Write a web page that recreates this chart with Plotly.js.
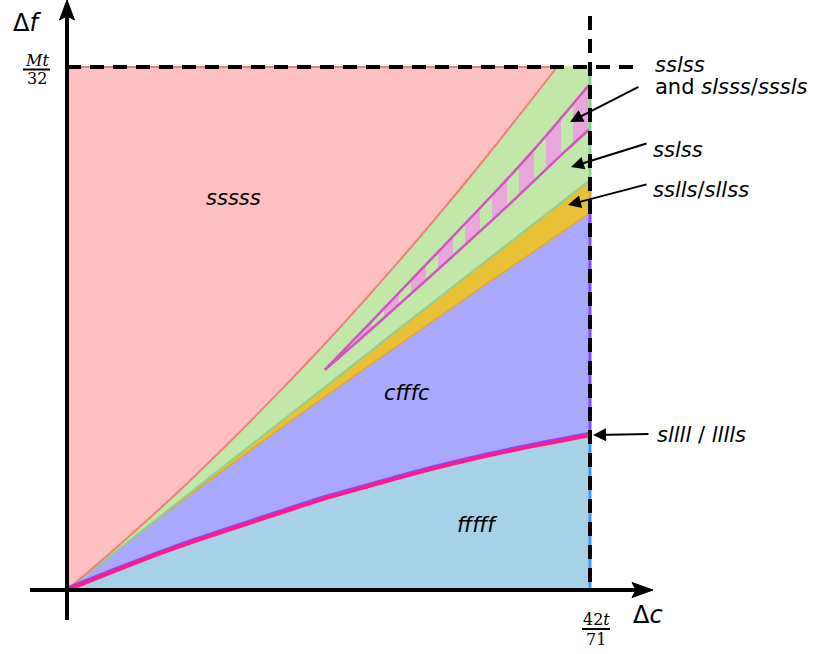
<!DOCTYPE html>
<html><head><meta charset="utf-8">
<script src="https://cdn.plot.ly/plotly-3.0.1.min.js"></script>
<style>html,body{margin:0;padding:0;background:#fff}</style>
</head><body><div id="chart" style="width:817px;height:654px"></div>
<script>
// Region boundaries; x in units of 42t/71 (Δc), y in units of Mt/32 (Δf)
const redX = [0, 0.1, 0.2, 0.3, 0.4, 0.5, 0.6, 0.7, 0.8, 0.937];
const redY = [0, 0.086, 0.176, 0.272, 0.373, 0.478, 0.589, 0.705, 0.826, 1.0];
const greenX = [0, 0.2, 0.4, 0.6, 0.8, 1.0];
const greenY = [0, 0.158, 0.315, 0.472, 0.628, 0.784];
const yellowX = [0, 0.2, 0.4, 0.6, 0.8, 1.0];
const yellowY = [0, 0.155, 0.303, 0.445, 0.584, 0.721];
const magX = [0, 0.1, 0.2, 0.3, 0.4, 0.5, 0.6, 0.7, 0.8, 0.9, 1.0];
const magY = [0, 0.040, 0.078, 0.112, 0.145, 0.177, 0.205, 0.232, 0.256, 0.277, 0.296];
const hatchUpX = [0.493, 0.598, 0.828, 0.892, 1.0];
const hatchUpY = [0.421, 0.530, 0.771, 0.841, 0.968];
const hatchLoX = [0.493, 0.598, 0.828, 0.955, 1.0];
const hatchLoY = [0.421, 0.513, 0.721, 0.841, 0.882];
const regionNames = ['sssss', 'cfffc', 'fffff'];
const sideNames = ['sslss', 'slsss', 'sssls', 'sslss', 'sslls', 'sllss', 'sllll', 'lllls'];
const xMaxLabel = ['42t', '71'];
const yMaxLabel = ['Mt', '32'];

// pixel -> data helpers (origin at pixel 67,590 ; 523 px per unit)
const X = p => (p - 67) / 523;
const Y = p => (590 - p) / 523;
const last = a => a[a.length - 1];
const sp = { shape: 'spline', smoothing: 1 };
const noLine = Object.assign({ width: 0, color: 'rgba(0,0,0,0)' }, sp);

const traces = [
  // fills (stacked with tonexty)
  { x: [0, 1], y: [0, 0], mode: 'lines', line: { width: 0, color: 'rgba(0,0,0,0)' } },
  { x: magX, y: magY, mode: 'lines', line: noLine, fill: 'tonexty', fillcolor: '#a6d1e7' },
  { x: yellowX, y: yellowY, mode: 'lines', line: noLine, fill: 'tonexty', fillcolor: '#a8a8fe' },
  { x: greenX, y: greenY, mode: 'lines', line: noLine, fill: 'tonexty', fillcolor: '#e8c234' },
  { x: redX, y: redY, mode: 'lines', line: noLine, fill: 'tonexty', fillcolor: '#c1e7a9' },
  { x: [last(redX), 1, last(greenX), last(redX)], y: [last(redY), 1, last(greenY), last(redY)], mode: 'lines',
    line: { width: 1.5, color: '#c1e7a9' }, fill: 'toself', fillcolor: '#c1e7a9' },
  { x: [0, last(redX)], y: [1, 1], mode: 'lines', line: { width: 0, color: 'rgba(0,0,0,0)' } },
  { x: redX, y: redY, mode: 'lines', line: noLine, fill: 'tonexty', fillcolor: '#fdbfbf' },
  // hatched band
  { x: hatchLoX, y: hatchLoY, mode: 'lines', line: noLine },
  { x: hatchUpX, y: hatchUpY, mode: 'lines', line: noLine, fill: 'tonexty', fillcolor: '#e8a6dc',
    fillpattern: { shape: '|', size: 27, solidity: 0.55, fgcolor: '#e8a6dc', bgcolor: '#c1e7a9', fillmode: 'replace' } },
  // boundary lines
  { x: [0, 1], y: [0, 0], mode: 'lines', line: { color: '#3d9ee8', width: 2 } },
  { x: [0, last(redX)], y: [1, 1], mode: 'lines', line: { color: '#f07f78', width: 2 } },
  { x: yellowX, y: yellowY, mode: 'lines', line: Object.assign({ color: '#e2a72e', width: 1.5 }, sp) },
  { x: greenX, y: greenY, mode: 'lines', line: Object.assign({ color: '#8fcf94', width: 2 }, sp) },
  { x: redX, y: redY, mode: 'lines', line: Object.assign({ color: '#f07f78', width: 2 }, sp) },
  { x: hatchLoX, y: hatchLoY, mode: 'lines', line: Object.assign({ color: '#cf55bd', width: 2.5 }, sp) },
  { x: hatchUpX, y: hatchUpY, mode: 'lines', line: Object.assign({ color: '#cf55bd', width: 2.5 }, sp) },
  { x: magX, y: magY.map(v => v + 0.0045), mode: 'lines', line: Object.assign({ color: '#8a45ff', width: 2 }, sp) },
  { x: magX, y: magY, mode: 'lines', line: Object.assign({ color: '#ff1a8c', width: 4 }, sp) }
];

const edge = (y0, y1, c) => ({ type: 'line', x0: 1, x1: 1, y0, y1, line: { color: c, width: 3 } });
const shapes = [
  edge(0, last(magY), '#3d9ee8'),
  edge(last(magY), last(yellowY), '#8a45ff'),
  edge(last(yellowY), last(greenY), '#e2a72e'),
  edge(last(greenY), 1, '#8fcf94'),
  { type: 'line', x0: 1, y0: Y(16), x1: 1, y1: 0, line: { color: '#000', width: 4, dash: '14px,9px' } },
  { type: 'line', x0: 0, y0: 1, x1: X(642), y1: 1, line: { color: '#000', width: 4, dash: '14px,9px' } },
  { type: 'line', x0: X(30), y0: 0, x1: X(638), y1: 0, line: { color: '#000', width: 4 } },
  { type: 'line', x0: 0, y0: Y(620), x1: 0, y1: Y(14), line: { color: '#000', width: 4 } },
  { type: 'path', path: `M ${X(653)},0 L ${X(632)},${Y(597.5)} L ${X(636)},0 L ${X(632)},${Y(582.5)} Z`,
    fillcolor: '#000', line: { color: '#000', width: 1 } },
  { type: 'path', path: `M 0,${Y(0)} L ${X(59.5)},${Y(20)} L 0,${Y(16)} L ${X(74.5)},${Y(20)} Z`,
    fillcolor: '#000', line: { color: '#000', width: 1 } },
  { type: 'line', x0: X(23), y0: Y(69.5), x1: X(50), y1: Y(69.5), line: { color: '#000', width: 2 } },
  { type: 'line', x0: X(582), y0: Y(629), x1: X(610), y1: Y(629), line: { color: '#000', width: 2 } }
];

const sans = { family: 'DejaVu Sans', size: 21, color: '#000' };
const big = { family: 'DejaVu Sans', size: 24, color: '#000' };
const serif = { family: 'DejaVu Serif', size: 16, color: '#000' };
const txt = (x, y, text, font, xanchor) => ({ x, y, text, font, showarrow: false, xanchor: xanchor || 'center', yanchor: 'middle' });
const arr = (tx, ty, fx, fy) => ({ x: X(tx), y: Y(ty), ax: X(fx), ay: Y(fy), axref: 'x', ayref: 'y', text: '',
  showarrow: true, arrowhead: 2, arrowsize: 1.3, arrowwidth: 2, arrowcolor: '#000', standoff: 0 });

const annotations = [
  txt(X(27), Y(23), 'Δ<i>f</i>', big),
  txt(X(648), Y(615), 'Δ<i>c</i>', big),
  txt(X(36.5), Y(60), '<i>' + yMaxLabel[0] + '</i>', serif),
  txt(X(36.5), Y(78), yMaxLabel[1], serif),
  txt(X(596), Y(619), xMaxLabel[0].replace('t', '<i>t</i>'), serif),
  txt(X(596), Y(639), xMaxLabel[1], serif),
  txt(X(233), Y(198), '<i>' + regionNames[0] + '</i>', sans),
  txt(X(407), Y(393), '<i>' + regionNames[1] + '</i>', sans),
  txt(X(477), Y(525), '<i>' + regionNames[2] + '</i>', sans),
  txt(X(653), Y(65), '<i>' + sideNames[0] + '</i>', sans, 'left'),
  txt(X(653), Y(87), 'and <i>' + sideNames[1] + '</i>/<i>' + sideNames[2] + '</i>', sans, 'left'),
  txt(X(651), Y(150), '<i>' + sideNames[3] + '</i>', sans, 'left'),
  txt(X(651), Y(190), '<i>' + sideNames[4] + '</i>/<i>' + sideNames[5] + '</i>', sans, 'left'),
  txt(X(655), Y(435), '<i>' + sideNames[6] + '</i> / <i>' + sideNames[7] + '</i>', sans, 'left'),
  arr(570, 122, 640, 86),
  arr(571, 167, 648, 143),
  arr(568, 205, 648, 184),
  arr(593, 435, 650, 434)
];

const layout = {
  width: 817, height: 654, margin: { l: 0, r: 0, t: 0, b: 0 },
  paper_bgcolor: '#fff', plot_bgcolor: '#fff', showlegend: false, hovermode: false,
  xaxis: { visible: false, range: [X(0), X(817)], fixedrange: true },
  yaxis: { visible: false, range: [Y(654), Y(0)], fixedrange: true },
  shapes, annotations
};
Plotly.newPlot('chart', traces.map(t => Object.assign({ type: 'scatter', hoverinfo: 'skip' }, t)), layout, { staticPlot: true });
</script></body></html>
